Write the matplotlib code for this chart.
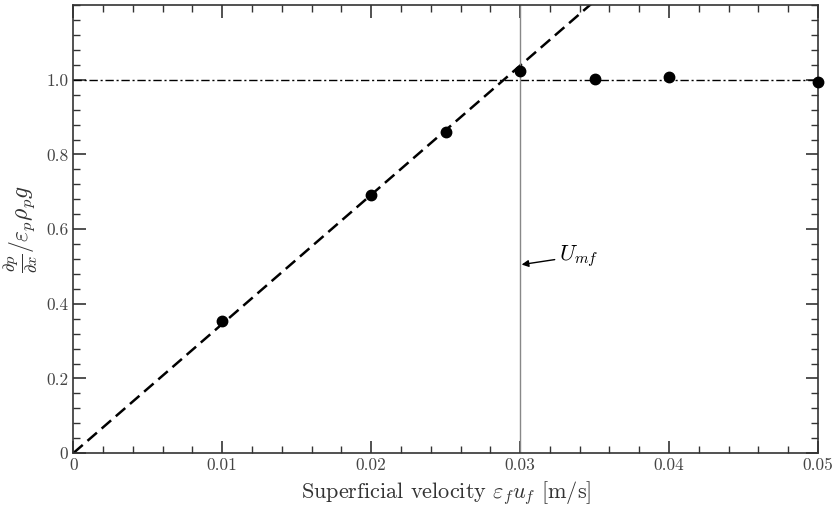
import matplotlib

matplotlib.use("Agg")
import matplotlib.pyplot as plt
import numpy as np
from matplotlib.ticker import MultipleLocator, FuncFormatter

plt.rcParams["font.family"] = "serif"
plt.rcParams["font.serif"] = ["cmr10", "DejaVu Serif"]
plt.rcParams["mathtext.fontset"] = "cm"
plt.rcParams["axes.formatter.use_mathtext"] = True

# measured points
velocity = [0.01, 0.02, 0.025, 0.03, 0.035, 0.04, 0.05]
pressure_ratio = [0.354, 0.692, 0.861, 1.024, 1.003, 1.008, 0.995]

# fixed-bed fit line and fluidised plateau
fit_slope = 34.6
fit_x = [0.0, 0.04]
plateau = 1.0
u_mf = 0.03

fig, ax = plt.subplots(figsize=(8.33, 5.12), dpi=100)
fig.subplots_adjust(left=0.088, right=0.982, top=0.99, bottom=0.115)

ax.plot(fit_x, [fit_slope * v for v in fit_x], color="black", linestyle="--",
        linewidth=1.8, dashes=(5, 2.5))
ax.axhline(plateau, color="black", linestyle="-.", linewidth=1.0, dashes=(6, 2, 1.5, 2))
ax.axvline(u_mf, color="#888888", linewidth=1.0)
ax.plot(velocity, pressure_ratio, "o", color="black", markersize=7.5, clip_on=False, zorder=5)

ax.annotate(r"$U_{mf}$", xy=(0.0301, 0.505), xytext=(0.0326, 0.528),
            fontsize=16, va="center", ha="left",
            arrowprops=dict(arrowstyle="-|>", color="black", lw=1.0,
                            mutation_scale=10, shrinkA=1, shrinkB=0))

ax.set_xlim(0, 0.05)
ax.set_ylim(0, 1.2)
ax.set_xticks([0, 0.01, 0.02, 0.03, 0.04, 0.05])
ax.set_yticks([0, 0.2, 0.4, 0.6, 0.8, 1.0])
ax.xaxis.set_minor_locator(MultipleLocator(0.002))
ax.yaxis.set_minor_locator(MultipleLocator(0.04))
ax.xaxis.set_major_formatter(FuncFormatter(lambda v, p: "0" if v == 0 else f"{v:.2f}"))
ax.yaxis.set_major_formatter(FuncFormatter(lambda v, p: "0" if v == 0 else f"{v:.1f}"))
ax.tick_params(which="both", direction="in", top=True, right=True,
               labelsize=12.5, colors="#333333", labelcolor="#444444")
ax.tick_params(which="major", length=9, width=1.2)
ax.tick_params(which="minor", length=5, width=1.0)
for s in ax.spines.values():
    s.set_linewidth(1.2)
    s.set_color("#333333")

ax.set_xlabel(r"Superficial velocity $\varepsilon_f u_f$ [m/s]", fontsize=16, color="#333333")
ax.set_ylabel(r"$\frac{\partial p}{\partial x}/\varepsilon_p\rho_p g$", fontsize=17, color="#333333")

fig.savefig("out.png", dpi=100)
